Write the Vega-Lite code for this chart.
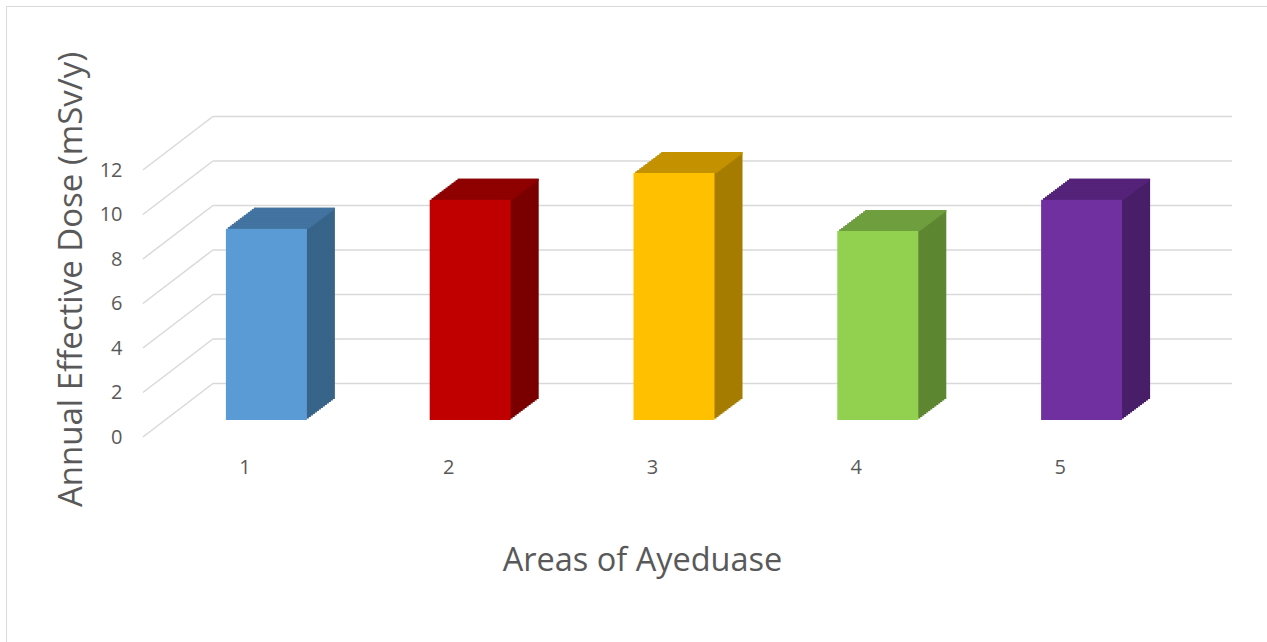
{
  "$schema": "https://vega.github.io/schema/vega-lite/v6.json",
  "width": 1264,
  "height": 639,
  "autosize": {"type": "none"},
  "padding": {"left": 6, "top": 6, "right": -3, "bottom": -3},
  "background": "white",
  "config": {
    "view": {"stroke": "#d9d9d9", "strokeWidth": 1},
    "font": "Open Sans"
  },
  "data": {
    "values": [
      {"area": "1", "dose": 8.6},
      {"area": "2", "dose": 9.9},
      {"area": "3", "dose": 11.1},
      {"area": "4", "dose": 8.5},
      {"area": "5", "dose": 9.9}
    ]
  },
  "encoding": {
    "x": {
      "field": "area", "type": "nominal",
      "scale": {"type": "band", "range": [137, 1156], "paddingInner": 0, "paddingOuter": 0},
      "axis": {
        "title": "Areas of Ayeduase", "orient": "bottom", "offset": -208,
        "ticks": false, "domain": false, "grid": false, "labelAngle": 0,
        "labelPadding": 36, "labelBaseline": "alphabetic",
        "labelFont": "Open Sans", "labelFontSize": 20, "labelColor": "#595959",
        "titleFont": "Open Sans", "titleFontSize": 32.5, "titleFontWeight": "normal", "titleColor": "#595959",
        "titleX": 636, "titleY": 133, "titleBaseline": "alphabetic", "titleAlign": "center"
      }
    },
    "y": {
      "field": "dose", "type": "quantitative",
      "scale": {"domain": [0, 12], "range": [431, 164], "nice": false, "zero": true},
      "axis": {
        "title": "Annual Effective Dose (mSv/y)", "orient": "left", "offset": -116,
        "ticks": false, "domain": false, "grid": false, "values": [0, 2, 4, 6, 8, 10, 12],
        "labelPadding": 0, "labelFont": "Open Sans", "labelFontSize": 20, "labelColor": "#595959",
        "titleFont": "Open Sans", "titleFontSize": 33, "titleFontWeight": "normal", "titleColor": "#595959",
        "titleAngle": -90, "titleX": -41, "titleY": 273, "titleBaseline": "alphabetic", "titleAlign": "center"
      }
    }
  },
  "layer": [
    {
      "data": {"values": [{"v": 0}, {"v": 2}, {"v": 4}, {"v": 6}, {"v": 8}, {"v": 10}, {"v": 12}]},
      "layer": [
        {
          "mark": {"type": "rule", "color": "#d9d9d9", "strokeWidth": 1.5, "xOffset": -32, "x2Offset": 172, "yOffset": -53.5},
          "encoding": {
            "x": {"datum": "1", "type": "nominal"},
            "x2": {"datum": "5"},
            "y": {"field": "v", "type": "quantitative"}
          }
        },
        {
          "mark": {"type": "rule", "color": "#d9d9d9", "strokeWidth": 1.5, "xOffset": -102, "x2Offset": -32, "y2Offset": -53.5},
          "encoding": {
            "x": {"datum": "1", "type": "nominal"},
            "x2": {"datum": "1"},
            "y": {"field": "v", "type": "quantitative"},
            "y2": {"field": "v"}
          }
        }
      ]
    },
    {
      "encoding": {
        "y2": {"datum": 0},
        "color": {"field": "area", "type": "nominal", "legend": null,
          "scale": {"domain": ["1", "2", "3", "4", "5"], "range": ["#376488", "#7a0000", "#a67c00", "#5e8732", "#481e68"]}}
      },
      "layer": [
        {"mark": {"type": "bar", "width": 81, "xOffset": 49.5, "yOffset": -38, "y2Offset": -38}},
        {"mark": {"type": "bar", "width": 81, "xOffset": 47.5, "yOffset": -36.5, "y2Offset": -36.5}},
        {"mark": {"type": "bar", "width": 81, "xOffset": 45.5, "yOffset": -35, "y2Offset": -35}},
        {"mark": {"type": "bar", "width": 81, "xOffset": 43.5, "yOffset": -33.5, "y2Offset": -33.5}},
        {"mark": {"type": "bar", "width": 81, "xOffset": 41.5, "yOffset": -32, "y2Offset": -32}},
        {"mark": {"type": "bar", "width": 81, "xOffset": 39.5, "yOffset": -30.5, "y2Offset": -30.5}},
        {"mark": {"type": "bar", "width": 81, "xOffset": 37.5, "yOffset": -29, "y2Offset": -29}},
        {"mark": {"type": "bar", "width": 81, "xOffset": 35.5, "yOffset": -27.5, "y2Offset": -27.5}},
        {"mark": {"type": "bar", "width": 81, "xOffset": 33.5, "yOffset": -26, "y2Offset": -26}},
        {"mark": {"type": "bar", "width": 81, "xOffset": 31.5, "yOffset": -24.5, "y2Offset": -24.5}},
        {"mark": {"type": "bar", "width": 81, "xOffset": 29.5, "yOffset": -23, "y2Offset": -23}},
        {"mark": {"type": "bar", "width": 81, "xOffset": 27.5, "yOffset": -21.5, "y2Offset": -21.5}},
        {"mark": {"type": "bar", "width": 81, "xOffset": 25.5, "yOffset": -20, "y2Offset": -20}},
        {"mark": {"type": "bar", "width": 81, "xOffset": 23.5, "yOffset": -18.5, "y2Offset": -18.5}}
      ]
    },
    {
      "encoding": {
        "y2": {"field": "dose"},
        "color": {"field": "area", "type": "nominal", "legend": null,
          "scale": {"domain": ["1", "2", "3", "4", "5"], "range": ["#4373a0", "#8f0000", "#c49200", "#6e9e3e", "#55237a"]}}
      },
      "layer": [
        {"mark": {"type": "bar", "width": 81, "xOffset": 49.5, "yOffset": -38, "y2Offset": -35.9}},
        {"mark": {"type": "bar", "width": 81, "xOffset": 47.5, "yOffset": -36.5, "y2Offset": -34.4}},
        {"mark": {"type": "bar", "width": 81, "xOffset": 45.5, "yOffset": -35, "y2Offset": -32.9}},
        {"mark": {"type": "bar", "width": 81, "xOffset": 43.5, "yOffset": -33.5, "y2Offset": -31.4}},
        {"mark": {"type": "bar", "width": 81, "xOffset": 41.5, "yOffset": -32, "y2Offset": -29.9}},
        {"mark": {"type": "bar", "width": 81, "xOffset": 39.5, "yOffset": -30.5, "y2Offset": -28.4}},
        {"mark": {"type": "bar", "width": 81, "xOffset": 37.5, "yOffset": -29, "y2Offset": -26.9}},
        {"mark": {"type": "bar", "width": 81, "xOffset": 35.5, "yOffset": -27.5, "y2Offset": -25.4}},
        {"mark": {"type": "bar", "width": 81, "xOffset": 33.5, "yOffset": -26, "y2Offset": -23.9}},
        {"mark": {"type": "bar", "width": 81, "xOffset": 31.5, "yOffset": -24.5, "y2Offset": -22.4}},
        {"mark": {"type": "bar", "width": 81, "xOffset": 29.5, "yOffset": -23, "y2Offset": -20.9}},
        {"mark": {"type": "bar", "width": 81, "xOffset": 27.5, "yOffset": -21.5, "y2Offset": -19.4}},
        {"mark": {"type": "bar", "width": 81, "xOffset": 25.5, "yOffset": -20, "y2Offset": -17.9}},
        {"mark": {"type": "bar", "width": 81, "xOffset": 23.5, "yOffset": -18.5, "y2Offset": -17}}
      ]
    },
    {
      "mark": {"type": "bar", "width": 81, "xOffset": 21.5, "yOffset": -17, "y2Offset": -17},
      "encoding": {
        "y2": {"datum": 0},
        "color": {"field": "area", "type": "nominal", "legend": null,
          "scale": {"domain": ["1", "2", "3", "4", "5"], "range": ["#5b9bd5", "#c00000", "#ffc000", "#92d050", "#7030a0"]}}
      }
    }
  ],
  "resolve": {"scale": {"color": "independent"}}
}
